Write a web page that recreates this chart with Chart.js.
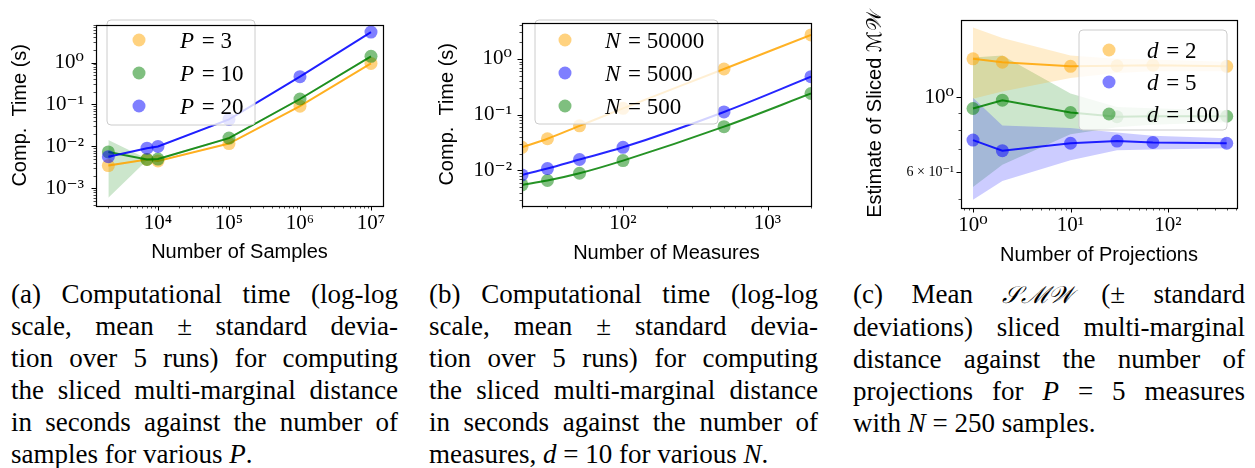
<!DOCTYPE html>
<html><head><meta charset="utf-8">
<script src="https://cdn.jsdelivr.net/npm/chart.js@4.4.0/dist/chart.umd.min.js"></script>
<style>
html,body{margin:0;padding:0;background:#fff;width:1255px;height:468px;overflow:hidden;position:relative;}
canvas{position:absolute;top:0;}
.cap{position:absolute;top:278px;font-family:"Liberation Serif","Tinos","Times New Roman","DejaVu Serif",serif;font-size:27px;line-height:32px;color:#000;}
.cap div{text-align:justify;text-align-last:justify;}
.cap div.l{text-align:left;text-align-last:left;}
.m{font-family:"DejaVu Serif","Liberation Serif",serif;font-style:italic;font-size:24px;}
</style></head>
<body>
<canvas id="c1" width="410" height="270" style="left:0px"></canvas>
<canvas id="c2" width="400" height="270" style="left:425px"></canvas>
<canvas id="c3" width="410" height="270" style="left:845px"></canvas>

<div class="cap" style="left:11px;width:387px">
<div>(a) Computational time (log-log</div>
<div>scale, mean ± standard devia-</div>
<div>tion over 5 runs) for computing</div>
<div>the sliced multi-marginal distance</div>
<div>in seconds against the number of</div>
<div class="l">samples for various <i>P</i>.</div>
</div>
<div class="cap" style="left:429px;width:389px">
<div>(b) Computational time (log-log</div>
<div>scale, mean ± standard devia-</div>
<div>tion over 5 runs) for computing</div>
<div>the sliced multi-marginal distance</div>
<div>in seconds against the number of</div>
<div class="l">measures, <i>d</i> = 10 for various <i>N</i>.</div>
</div>
<div class="cap" style="left:853px;width:392px">
<div>(c) Mean <span class="m">𝒮ℳ𝒲</span> (± standard</div>
<div>deviations) sliced multi-marginal</div>
<div>distance against the number of</div>
<div>projections for <i>P</i> = 5 measures</div>
<div class="l">with <i>N</i> = 250 samples.</div>
</div>

<script>
// ---------- (a) ----------
const samples = [2000, 7000, 10000, 100000, 1000000, 10000000];
const p3Mean  = [0.0035, 0.0049, 0.0045, 0.0117, 0.091, 0.95];
const p3Lo    = [0.0033, 0.0047, 0.0043, 0.0113, 0.088, 0.92];
const p3Hi    = [0.0037, 0.0051, 0.0047, 0.0121, 0.094, 0.98];
const p10Mean = [0.0074, 0.0049, 0.0050, 0.0158, 0.135, 1.40];
const p10Lo   = [0.0006, 0.0047, 0.0047, 0.0150, 0.128, 1.33];
const p10Hi   = [0.0142, 0.0051, 0.0053, 0.0166, 0.142, 1.47];
const p20Mean = [0.0057, 0.0091, 0.0100, 0.044, 0.46, 5.3];
const p20Lo   = [0.0054, 0.0087, 0.0096, 0.042, 0.44, 5.1];
const p20Hi   = [0.0060, 0.0095, 0.0104, 0.046, 0.48, 5.5];
const aXMajor = [1e4, 1e5, 1e6, 1e7];
const aXLabels = ['10⁴', '10⁵', '10⁶', '10⁷'];
const aYMajor = [1e-3, 1e-2, 1e-1, 1];
const aYLabels = ['10⁻³', '10⁻²', '10⁻¹', '10⁰'];
const aLegend = ['3', '10', '20'];

// ---------- (b) ----------
const measures = [20, 30, 50, 100, 500, 2000];
const n50000 = [0.026, 0.037, 0.063, 0.13, 0.66, 2.7];
const n5000  = [0.0083, 0.0108, 0.0157, 0.026, 0.112, 0.48];
const n500   = [0.0055, 0.0066, 0.0089, 0.015, 0.061, 0.24];
const bXMajor = [100, 1000];
const bXLabels = ['10²', '10³'];
const bYMajor = [1e-2, 1e-1, 1];
const bYLabels = ['10⁻²', '10⁻¹', '10⁰'];
const bLegend = ['50000', '5000', '500'];

// ---------- (c) ----------
const projections = [1, 2, 10, 30, 70, 400];
const d2Mean   = [1.30, 1.27, 1.235, 1.24, 1.245, 1.235];
const d2Lo     = [0.99, 1.04, 1.14, 1.18, 1.195, 1.195];
const d2Hi     = [1.61, 1.50, 1.33, 1.30, 1.295, 1.275];
const d5Mean   = [0.746, 0.694, 0.730, 0.741, 0.734, 0.730];
const d5Lo     = [0.496, 0.564, 0.650, 0.696, 0.699, 0.705];
const d5Hi     = [0.996, 0.824, 0.810, 0.786, 0.769, 0.755];
const d100Mean = [0.926, 0.980, 0.901, 0.875, 0.878, 0.878];
const d100Lo   = [0.541, 0.630, 0.776, 0.815, 0.828, 0.843];
const d100Hi   = [1.311, 1.330, 1.026, 0.935, 0.928, 0.913];
const cXMajor = [1, 10, 100];
const cXLabels = ['10⁰', '10¹', '10²'];
const cYMajor = [0.6, 1];
const cYLabels = ['6 × 10⁻¹', '10⁰'];
const cLegend = ['2', '5', '100'];

const SERIF = '"Liberation Serif", "Tinos", "Times New Roman", "DejaVu Serif", serif';
const SANS = '"Liberation Sans", "Arimo", "DejaVu Sans", sans-serif';
const ORANGE = [255, 165, 0], GREEN = [0, 128, 0], BLUE = [0, 0, 255];
const rgba = (c, a) => `rgba(${c[0]},${c[1]},${c[2]},${a})`;
const pts = (xs, ys) => xs.map((x, i) => ({x: x, y: ys[i]}));

function minorTicks(min, max) {
  const out = [];
  for (let e = Math.floor(Math.log10(min)) - 1; e <= Math.ceil(Math.log10(max)); e++)
    for (let m = 1; m < 10; m++) {
      const v = parseFloat((m * Math.pow(10, e)).toPrecision(6));
      if (v >= min && v <= max) out.push(v);
    }
  return out;
}

function lineDS(xs, ys, col, order, smooth) {
  return {data: pts(xs, ys), borderColor: rgba(col, 0.85), borderWidth: 2,
    backgroundColor: rgba(col, 0.5), pointBackgroundColor: rgba(col, 0.5),
    pointBorderWidth: 0, pointRadius: 6.5, fill: false, order: order, clip: 0,
    tension: 0, cubicInterpolationMode: smooth ? 'monotone' : 'default'};
}
function bandDS(xs, lo, hi, col) {
  return [
    {data: pts(xs, lo), borderWidth: 0, borderColor: 'rgba(0,0,0,0)', pointRadius: 0, fill: false, order: 20, clip: 0},
    {data: pts(xs, hi), borderWidth: 0, borderColor: 'rgba(0,0,0,0)', pointRadius: 0, fill: '-1',
     backgroundColor: rgba(col, 0.2), order: 20, clip: 0}
  ];
}

const near = (a, b) => Math.abs(a - b) / Math.abs(b) < 1e-6;

const framePlugin = {
  id: 'frame',
  afterDraw(chart, args, o) {
    const {ctx, chartArea: a} = chart;
    ctx.save();
    ctx.strokeStyle = '#000';
    ['x', 'y'].forEach(id => {
      const s = chart.scales[id];
      const majors = o[id + 'Major'];
      s.ticks.forEach(t => {
        const maj = majors.some(m => near(t.value, m));
        const len = maj ? 4.5 : 2.5;
        ctx.lineWidth = maj ? 1 : 0.7;
        const p = Math.round(s.getPixelForValue(t.value)) + 0.5;
        ctx.beginPath();
        if (id === 'x') { ctx.moveTo(p, a.bottom); ctx.lineTo(p, a.bottom + len); }
        else { ctx.moveTo(a.left, p); ctx.lineTo(a.left - len, p); }
        ctx.stroke();
      });
    });
    ctx.lineWidth = 1.2;
    ctx.strokeRect(Math.round(a.left) + 0.5, Math.round(a.top) + 0.5,
      Math.round(a.right - a.left), Math.round(a.bottom - a.top));
    ctx.restore();
  }
};

const legendPlugin = {
  id: 'mlegend',
  afterDatasetsDraw(chart, args, o) {
    const ctx = chart.ctx, b = o.box, r = 4;
    ctx.save();
    ctx.beginPath();
    ctx.moveTo(b.x + r, b.y); ctx.lineTo(b.x + b.w - r, b.y);
    ctx.quadraticCurveTo(b.x + b.w, b.y, b.x + b.w, b.y + r);
    ctx.lineTo(b.x + b.w, b.y + b.h - r);
    ctx.quadraticCurveTo(b.x + b.w, b.y + b.h, b.x + b.w - r, b.y + b.h);
    ctx.lineTo(b.x + r, b.y + b.h);
    ctx.quadraticCurveTo(b.x, b.y + b.h, b.x, b.y + b.h - r);
    ctx.lineTo(b.x, b.y + r);
    ctx.quadraticCurveTo(b.x, b.y, b.x + r, b.y);
    ctx.closePath();
    ctx.fillStyle = 'rgba(255,255,255,0.8)';
    ctx.fill();
    ctx.strokeStyle = 'rgba(204,204,204,1)';
    ctx.lineWidth = 1;
    ctx.stroke();
    o.items.forEach((it, i) => {
      const y = o.rows[i];
      ctx.beginPath();
      ctx.arc(o.markerX, y, 6.5, 0, Math.PI * 2);
      ctx.fillStyle = rgba(it.color, 0.5);
      ctx.fill();
      ctx.fillStyle = '#000';
      ctx.textBaseline = 'alphabetic';
      ctx.textAlign = 'left';
      ctx.font = 'italic 23px ' + SERIF;
      ctx.fillText(o.sym, o.textX, y + 7.5);
      const w = ctx.measureText(o.sym).width;
      ctx.font = '23px ' + SERIF;
      ctx.fillText(' = ' + it.text, o.textX + w + 2, y + 7.5);
    });
    ctx.restore();
  }
};

function makeChart(id, cfg) {
  const xTicks = minorTicks(cfg.xmin, cfg.xmax);
  const yTicks = minorTicks(cfg.ymin, cfg.ymax);
  const lab = (majors, labels) => (v) => {
    const i = majors.findIndex(m => near(v, m));
    return i >= 0 ? labels[i] : '';
  };
  return new Chart(document.getElementById(id), {
    type: 'line',
    data: {datasets: cfg.datasets},
    plugins: [legendPlugin, framePlugin],
    options: {
      responsive: false, animation: false, events: [],
      layout: {padding: {top: cfg.pt, right: cfg.pr, left: 0, bottom: 0}},
      plugins: {
        legend: {display: false}, tooltip: {enabled: false},
        mlegend: cfg.legend,
        frame: {xMajor: cfg.xMajor, yMajor: cfg.yMajor}
      },
      scales: {
        x: {
          type: 'logarithmic', min: cfg.xmin, max: cfg.xmax,
          grid: {display: false, drawTicks: false, tickLength: 0}, border: {display: false},
          afterBuildTicks: s => { s.ticks = xTicks.map(v => ({value: v})); },
          ticks: {autoSkip: false, maxRotation: 0, minRotation: 0, padding: 5, color: '#000',
            font: {family: SERIF, size: 21},
            callback: lab(cfg.xMajor, cfg.xLabels)},
          title: {display: true, text: cfg.xTitle, color: '#000',
            font: {family: SANS, size: 20},
            padding: {top: 0, bottom: cfg.xtb}},
          afterFit: s => { s.height = cfg.xh; }
        },
        y: {
          type: 'logarithmic', min: cfg.ymin, max: cfg.ymax,
          grid: {display: false, drawTicks: false, tickLength: 0}, border: {display: false},
          afterBuildTicks: s => { s.ticks = yTicks.map(v => ({value: v})); },
          ticks: {autoSkip: false, padding: cfg.ypad, color: '#000',
            font: (c) => ({family: SERIF,
              size: (c.tick && near(c.tick.value, 0.6) && cfg.smallSix) ? 14 : 21}),
            callback: lab(cfg.yMajor, cfg.yLabels)},
          title: {display: true, text: cfg.yTitle, color: '#000',
            font: {family: SANS, size: 20},
            padding: {top: cfg.ytp, bottom: 0}},
          afterFit: s => { s.width = cfg.yw; }
        }
      }
    }
  });
}

// (a)
makeChart('c1', {
  xmin: 1340, xmax: 1.476e7, ymin: 3.81e-4, ymax: 8.0,
  xMajor: aXMajor, xLabels: aXLabels, yMajor: aYMajor, yLabels: aYLabels,
  pt: 10, pr: 27, yw: 96, xh: 64, xtb: 6, ytp: 8, ypad: 12,
  xTitle: 'Number of Samples', yTitle: 'Comp.  Time (s)',
  datasets: [
    ...bandDS(samples, p3Lo, p3Hi, ORANGE),
    ...bandDS(samples, p10Lo, p10Hi, GREEN),
    ...bandDS(samples, p20Lo, p20Hi, BLUE),
    lineDS(samples, p3Mean, ORANGE, 3, false),
    lineDS(samples, p10Mean, GREEN, 2, false),
    lineDS(samples, p20Mean, BLUE, 1, false)
  ],
  legend: {box: {x: 107, y: 20, w: 148, h: 105}, markerX: 139, textX: 180, rows: [40, 73, 106], sym: 'P',
    items: [{color: ORANGE, text: aLegend[0]}, {color: GREEN, text: aLegend[1]}, {color: BLUE, text: aLegend[2]}]}
});

// (b)
makeChart('c2', {
  xmin: 20, xmax: 2000, ymin: 0.0023, ymax: 4.49,
  xMajor: bXMajor, xLabels: bXLabels, yMajor: bYMajor, yLabels: bYLabels,
  pt: 7, pr: 14, yw: 97, xh: 64, xtb: 5, ytp: 10, ypad: 10,
  xTitle: 'Number of Measures', yTitle: 'Comp.  Time (s)',
  datasets: [
    lineDS(measures, n50000, ORANGE, 1, true),
    lineDS(measures, n5000, BLUE, 2, true),
    lineDS(measures, n500, GREEN, 3, true)
  ],
  legend: {box: {x: 110, y: 20, w: 183, h: 104}, markerX: 140, textX: 180, rows: [40, 73, 106], sym: 'N',
    items: [{color: ORANGE, text: bLegend[0]}, {color: BLUE, text: bLegend[1]}, {color: GREEN, text: bLegend[2]}]}
});

// (c)
makeChart('c3', {
  xmin: 0.753, xmax: 510, ymin: 0.469, ymax: 1.70,
  xMajor: cXMajor, xLabels: cXLabels, yMajor: cYMajor, yLabels: cYLabels, smallSix: true,
  pt: 19, pr: 18, yw: 116, xh: 62, xtb: 3, ytp: 18, ypad: 7,
  xTitle: 'Number of Projections', yTitle: 'Estimate of Sliced ℳ𝒲',
  datasets: [
    ...bandDS(projections, d2Lo, d2Hi, ORANGE),
    ...bandDS(projections, d5Lo, d5Hi, BLUE),
    ...bandDS(projections, d100Lo, d100Hi, GREEN),
    lineDS(projections, d2Mean, ORANGE, 3, false),
    lineDS(projections, d5Mean, BLUE, 2, false),
    lineDS(projections, d100Mean, GREEN, 1, false)
  ],
  legend: {box: {x: 234, y: 30, w: 148, h: 100}, markerX: 264, textX: 302, rows: [50, 82, 114], sym: 'd',
    items: [{color: ORANGE, text: cLegend[0]}, {color: BLUE, text: cLegend[1]}, {color: GREEN, text: cLegend[2]}]}
});
</script>
</body></html>
